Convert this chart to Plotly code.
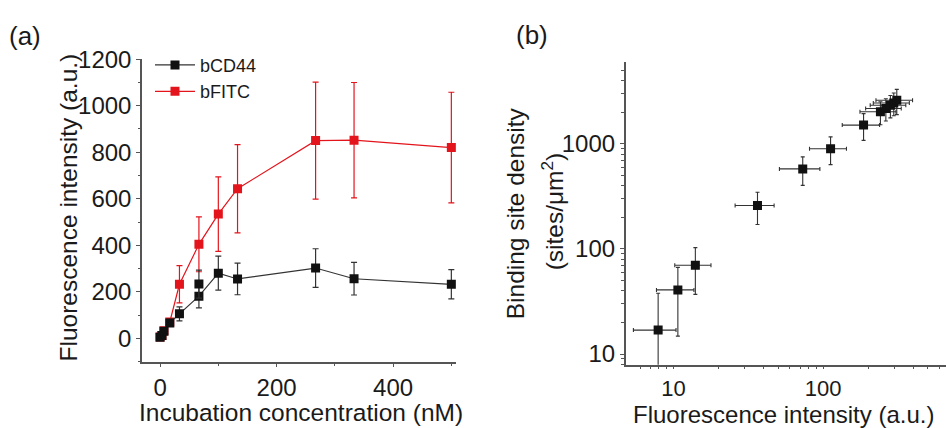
import plotly.graph_objects as go

# ---- Panel (a) data ----
cd44_x = [0, 3.3, 6.7, 16.7, 33.3, 66.7, 100, 133, 267, 333, 500]
cd44_y = [4, 12, 30, 66, 105, 181, 280, 255, 302, 256, 232]
cd44_err = [5, 6, 8, 15, 30, 50, 73, 68, 83, 70, 63]
cd44_extra_x = [66.7]
cd44_extra_y = [233]
cd44_extra_err = [60]

fitc_x = [0, 3.3, 6.7, 16.7, 33.3, 66.7, 100, 133, 267, 333, 500]
fitc_y = [5, 12, 32, 70, 232, 404, 534, 643, 850, 852, 820]
fitc_err = [5, 6, 8, 15, 80, 118, 160, 190, 252, 248, 238]

# ---- Panel (b) data ----
b_x = [7.9, 10.7, 14.0, 36.4, 73, 112, 186, 241, 262, 281, 296, 310]
b_y = [16.9, 40.8, 70, 259, 578, 900, 1510, 2020, 2170, 2330, 2450, 2600]
b_xerr = [2.5, 3.0, 3.8, 10.6, 22, 31, 52, 65, 70, 75, 80, 85]
b_yerr = [21, 26, 33, 88, 175, 265, 430, 500, 520, 560, 600, 700]

FONT = "Liberation Sans, Arial, sans-serif"
RED = "#e3141c"
BLK = "#111111"
AX = "#555555"
TXT = "#1a1a1a"

W, H = 946, 428

fig = go.Figure()

fig.add_trace(go.Scatter(
    x=fitc_x, y=fitc_y, mode="lines+markers", name="bFITC", legendrank=2,
    line=dict(color=RED, width=1.2),
    marker=dict(symbol="square", size=9, color=RED),
    error_y=dict(type="data", array=fitc_err, color=RED, thickness=1.2, width=3),
    xaxis="x", yaxis="y"))

fig.add_trace(go.Scatter(
    x=cd44_x, y=cd44_y, mode="lines+markers", name="bCD44", legendrank=1,
    line=dict(color="#333333", width=1.2),
    marker=dict(symbol="square", size=9, color=BLK),
    error_y=dict(type="data", array=cd44_err, color="#333333", thickness=1.2, width=3),
    xaxis="x", yaxis="y"))

fig.add_trace(go.Scatter(
    x=cd44_extra_x, y=cd44_extra_y, mode="markers", showlegend=False,
    marker=dict(symbol="square", size=9, color=BLK),
    error_y=dict(type="data", array=cd44_extra_err, color="#333333", thickness=1.2, width=3),
    xaxis="x", yaxis="y"))

fig.add_trace(go.Scatter(
    x=b_x, y=b_y, mode="markers", showlegend=False,
    marker=dict(symbol="square", size=9, color=BLK),
    error_x=dict(type="data", array=b_xerr, color="#333333", thickness=1.1, width=2),
    error_y=dict(type="data", array=b_yerr, color="#333333", thickness=1.1, width=2),
    xaxis="x2", yaxis="y2"))

ax_common = dict(showgrid=False, zeroline=False, showline=True, linecolor=AX, linewidth=1.5,
                 ticks="outside", tickcolor=AX, tickwidth=1.2)

TF = dict(family=FONT, size=24, color=TXT)
TF2 = dict(family=FONT, size=22, color=TXT)

dec_minor_x = [6, 7, 8, 9, 20, 30, 40, 50, 60, 70, 80, 90, 200, 300, 400, 500, 600]
dec_minor_y = [8, 9, 20, 30, 40, 50, 60, 70, 80, 90, 200, 300, 400, 500, 600, 700, 800, 900,
               2000, 3000, 4000, 5000]

fig.update_layout(
    width=W, height=H,
    margin=dict(l=0, r=0, t=0, b=0),
    paper_bgcolor="white", plot_bgcolor="white",
    font=dict(family=FONT, color=TXT),
    xaxis=dict(domain=[142 / W, 456 / W], range=[-31, 508], tick0=0, dtick=200,
               minor=dict(dtick=100, ticks="outside", ticklen=2.5, tickcolor=AX),
               anchor="y", tickfont=TF, ticklen=4, **ax_common),
    yaxis=dict(domain=[(H - 361) / H, (H - 47) / H], range=[-100, 1200], tick0=0, dtick=200,
               minor=dict(dtick=100, ticks="outside", ticklen=2.5, tickcolor=AX),
               anchor="x", tickfont=TF, ticklen=4, **ax_common),
    xaxis2=dict(type="log", domain=[625.7 / W, 1.0], range=[0.681, 2.82],
                tickvals=[10, 100], ticktext=["10", "100"],
                minor=dict(tickvals=dec_minor_x, ticks="outside", ticklen=2.5, tickcolor=AX),
                anchor="y2", tickfont=TF2, ticklen=3, **ax_common),
    yaxis2=dict(type="log", domain=[(H - 364.3) / H, (H - 50) / H], range=[0.899, 3.778],
                tickvals=[10, 100, 1000], ticktext=["10", "100", "1000"],
                minor=dict(tickvals=dec_minor_y, ticks="outside", ticklen=2.5, tickcolor=AX),
                anchor="x2", tickfont=TF, ticklen=4, **ax_common),
    legend=dict(x=150 / W, y=1 - 34 / H, xanchor="left", yanchor="top",
                bgcolor="rgba(0,0,0,0)", font=dict(family=FONT, size=18, color=TXT),
                itemwidth=40, tracegroupgap=0),
    showlegend=True,
)

ann = [
    dict(text="(a)", x=25, y=23, size=26, angle=0),
    dict(text="(b)", x=532, y=22, size=26, angle=0),
    dict(text="Incubation concentration (nM)", x=301, y=414, size=24.5, angle=0),
    dict(text="Fluorescence intensity (a.u.)", x=783, y=416, size=24, angle=0),
    dict(text="Fluorescence intensity (a.u.)", x=68, y=201, size=24.5, angle=-90),
    dict(text="Binding site density", x=515, y=207, size=24.5, angle=-90),
    dict(text="(sites/μm<sup>2</sup>)", x=552, y=205, size=24.5, angle=-90),
]
for a in ann:
    fig.add_annotation(text=a["text"], x=a["x"] / W, y=1 - a["y"] / H, xref="paper", yref="paper",
                       xanchor="center", yanchor="middle", showarrow=False, textangle=a["angle"],
                       font=dict(family=FONT, size=a["size"], color=TXT))

fig.write_html("out.html")
